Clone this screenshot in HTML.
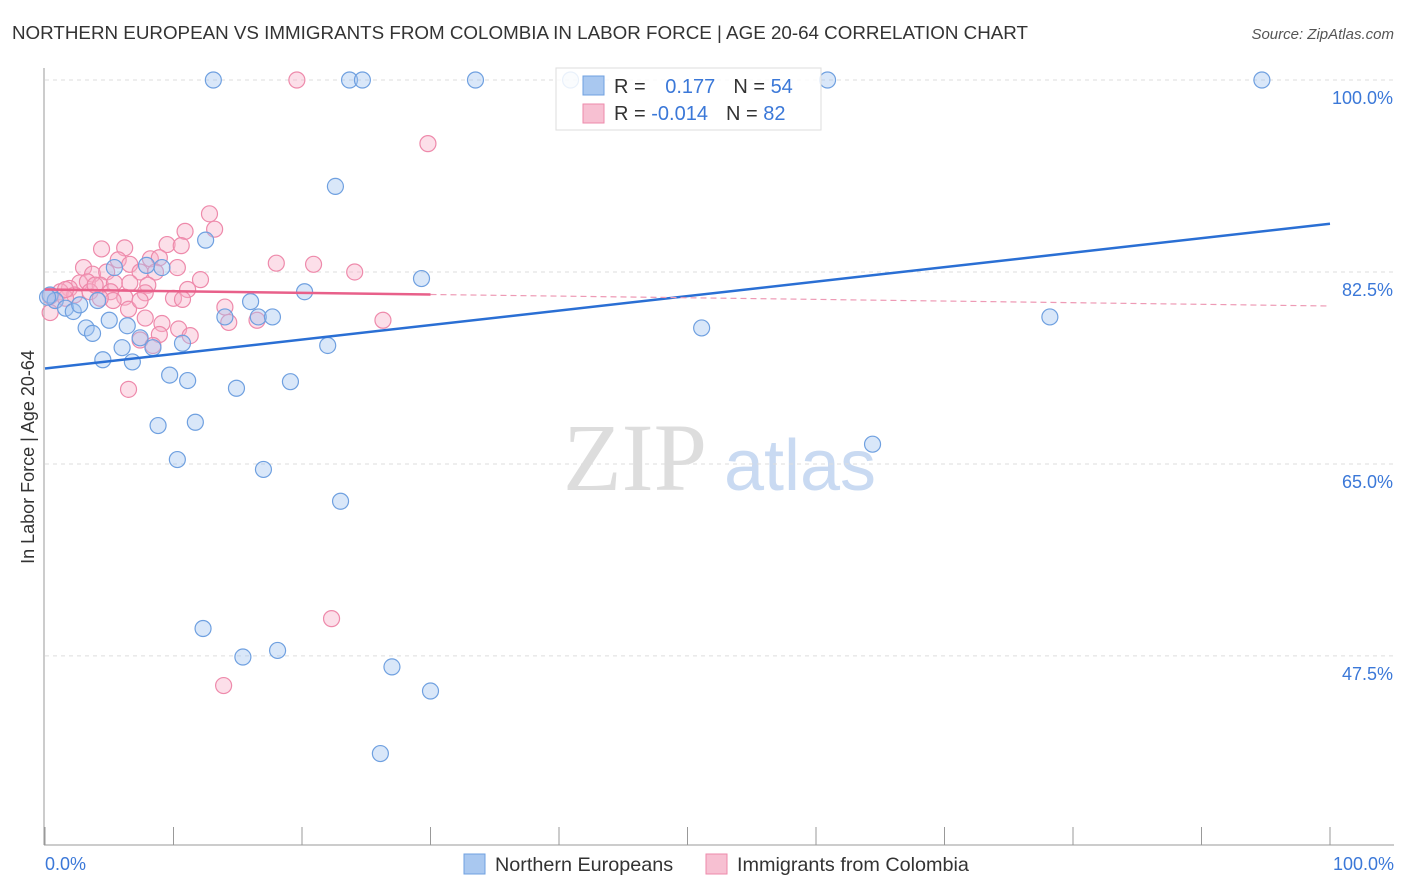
<!DOCTYPE html>
<html><head><meta charset="utf-8">
<style>
body{margin:0;background:#fff;font-family:"Liberation Sans",sans-serif;}
#wrap{position:relative;width:1406px;height:892px;overflow:hidden;}
</style></head>
<body>
<div id="wrap">
<svg id="svg" width="1406" height="892" xmlns="http://www.w3.org/2000/svg">
<text x="12" y="39" font-size="18.5" fill="#333" textLength="1016" lengthAdjust="spacingAndGlyphs">NORTHERN EUROPEAN VS IMMIGRANTS FROM COLOMBIA IN LABOR FORCE | AGE 20-64 CORRELATION CHART</text>
<text x="1394" y="39" font-size="15" fill="#555" font-style="italic" text-anchor="end">Source: ZipAtlas.com</text>
<text x="635" y="490" font-size="96" fill="#ddd" font-family="Liberation Serif,serif" text-anchor="middle">ZIP</text>
<text x="800" y="490" font-size="72" fill="#c9daf2" text-anchor="middle">atlas</text>
<g id="grid"></g>
<g id="pts"></g>
<g id="lines"></g>
<text transform="translate(34,457) rotate(-90)" font-size="18" fill="#333" text-anchor="middle">In Labor Force | Age 20-64</text>
<text x="45" y="870" font-size="18" fill="#3b78d8">0.0%</text>
<text x="1394" y="870" font-size="18" fill="#3b78d8" text-anchor="end">100.0%</text>
<g>
<rect x="556" y="68" width="265" height="62" fill="#fff" fill-opacity="0.85" stroke="#ddd"/>
<rect x="583" y="76" width="21" height="19" fill="#a9c8f0" stroke="#6fa0e0"/>
<rect x="583" y="104" width="21" height="19" fill="#f7c0d2" stroke="#ee8aab"/>
<text x="614" y="93" font-size="20" fill="#333">R = <tspan fill="#3b78d8" dx="14">0.177</tspan><tspan dx="18" fill="#333">N = </tspan><tspan fill="#3b78d8">54</tspan></text>
<text x="614" y="120" font-size="20" fill="#333">R = <tspan fill="#3b78d8">-0.014</tspan><tspan dx="18" fill="#333">N = </tspan><tspan fill="#3b78d8">82</tspan></text>
</g>
<g>
<rect x="464" y="854" width="21" height="20" fill="#a9c8f0" stroke="#6fa0e0"/>
<text x="495" y="871" font-size="19.8" fill="#333">Northern Europeans</text>
<rect x="706" y="854" width="21" height="20" fill="#f7c0d2" stroke="#ee8aab"/>
<text x="737" y="871" font-size="19.8" fill="#333">Immigrants from Colombia</text>
</g>
</svg>
</div>
<script>
const yTicks=[100,82.5,65,47.5];
const yTickLabels=["100.0%","82.5%","65.0%","47.5%"];
const xTicks=[0,10,20,30,40,50,60,70,80,90,100];
const blueX=[13.1,23.7,24.7,33.5,60.9,94.7,40.9,22.6,12.5,29.3,5.4,9.1,7.9,20.2,16.0,14.0,16.6,17.7,0.4,0.8,1.6,2.2,2.7,4.1,3.2,3.7,5.0,6.4,4.5,6.0,6.8,7.4,8.4,10.7,22.0,9.7,11.1,14.9,19.1,8.8,11.7,10.3,17.0,23.0,12.3,15.4,18.1,27.0,30.0,26.1,51.1,78.2,64.4,0.2];
const blueY=[100,100,100,100,100,100,100,90.3,85.4,81.9,82.9,82.9,83.1,80.7,79.8,78.4,78.4,78.4,80.4,79.9,79.2,78.9,79.5,79.9,77.4,76.9,78.1,77.6,74.5,75.6,74.3,76.5,75.6,76.0,75.8,73.1,72.6,71.9,72.5,68.5,68.8,65.4,64.5,61.6,50.0,47.4,48.0,46.5,44.3,38.6,77.4,78.4,66.8,80.2];
const pinkX=[19.6,29.8,12.8,13.2,10.9,6.2,4.4,9.5,10.6,8.2,8.9,5.7,6.6,10.3,18.0,20.9,24.1,3.0,3.7,4.8,7.4,8.6,12.1,2.7,3.3,4.3,5.4,6.6,8.0,11.1,1.9,1.2,2.3,3.5,5.1,6.2,7.8,10.0,10.7,0.4,0.8,1.6,5.3,6.5,14.0,7.8,9.1,10.4,8.9,7.4,11.3,8.4,14.3,26.3,0.4,6.5,22.3,13.9,4.3,7.4,3.9,1.6,16.5];
const pinkY=[100,94.2,87.8,86.4,86.2,84.7,84.6,85.0,84.9,83.7,83.8,83.6,83.2,82.9,83.3,83.2,82.5,82.9,82.3,82.5,82.5,82.5,81.8,81.5,81.6,81.3,81.5,81.5,81.3,80.9,81.0,80.7,80.4,80.7,80.7,80.2,80.6,80.1,80.0,80.3,79.9,80.1,79.9,79.1,79.3,78.3,77.8,77.3,76.8,76.3,76.7,75.8,77.9,78.1,78.8,71.8,50.9,44.8,80.1,79.9,81.3,80.9,78.1];
const blueTrend=[73.7,86.9];
const pinkTrend=[80.9,79.4];
const pinkSolidEnd=30;
const NS="http://www.w3.org/2000/svg";
const X=v=>45+v*12.85;
const Y=v=>80+(100-v)*10.97;
function mk(t,a,p){const e=document.createElementNS(NS,t);for(const k in a)e.setAttribute(k,a[k]);p.appendChild(e);return e;}
const grid=document.getElementById('grid');
yTicks.forEach((t,i)=>{
 const l=mk('line',{x1:45,x2:1394,y1:Y(t),y2:Y(t),stroke:'#ddd','stroke-dasharray':'4,4'},grid);
 
 
 const tx=mk('text',{x:1393,y:Y(t)+24,'font-size':18,fill:'#3b78d8','text-anchor':'end'},grid);
 tx.textContent=yTickLabels[i];
 
 
});
const ax=mk('line',{x1:44,x2:44,y1:68,y2:845,stroke:'#999'},grid);


const bx=mk('line',{x1:44,x2:1394,y1:845,y2:845,stroke:'#999'},grid);


xTicks.forEach(t=>{
 const l=mk('line',{x1:X(t),x2:X(t),y1:827,y2:845,stroke:'#999'},grid);
 
 
});
const pts=document.getElementById('pts');
pinkX.forEach((v,i)=>{
 const c=mk('circle',{cx:X(v),cy:Y(pinkY[i]),r:8,fill:'rgba(247,175,200,0.4)',stroke:'#ee8aab','stroke-width':1.2},pts);
 
 
});
blueX.forEach((v,i)=>{
 const c=mk('circle',{cx:X(v),cy:Y(blueY[i]),r:8,fill:'rgba(160,195,240,0.4)',stroke:'#6fa0e0','stroke-width':1.2},pts);
 
 
});
const lines=document.getElementById('lines');
const bl=mk('line',{x1:X(0),y1:Y(blueTrend[0]),x2:X(100),y2:Y(blueTrend[1]),stroke:'#2a6fd4','stroke-width':2.5},lines);


const pm=pinkTrend[0]+(pinkTrend[1]-pinkTrend[0])*pinkSolidEnd/100;
const pl=mk('line',{x1:X(0),y1:Y(pinkTrend[0]),x2:X(pinkSolidEnd),y2:Y(pm),stroke:'#e8608a','stroke-width':2.5},lines);


const pd=mk('line',{x1:X(pinkSolidEnd),y1:Y(pm),x2:X(100),y2:Y(pinkTrend[1]),stroke:'#ee9ab5','stroke-width':1.2,'stroke-dasharray':'6,4'},lines);


</script>
</body></html>
